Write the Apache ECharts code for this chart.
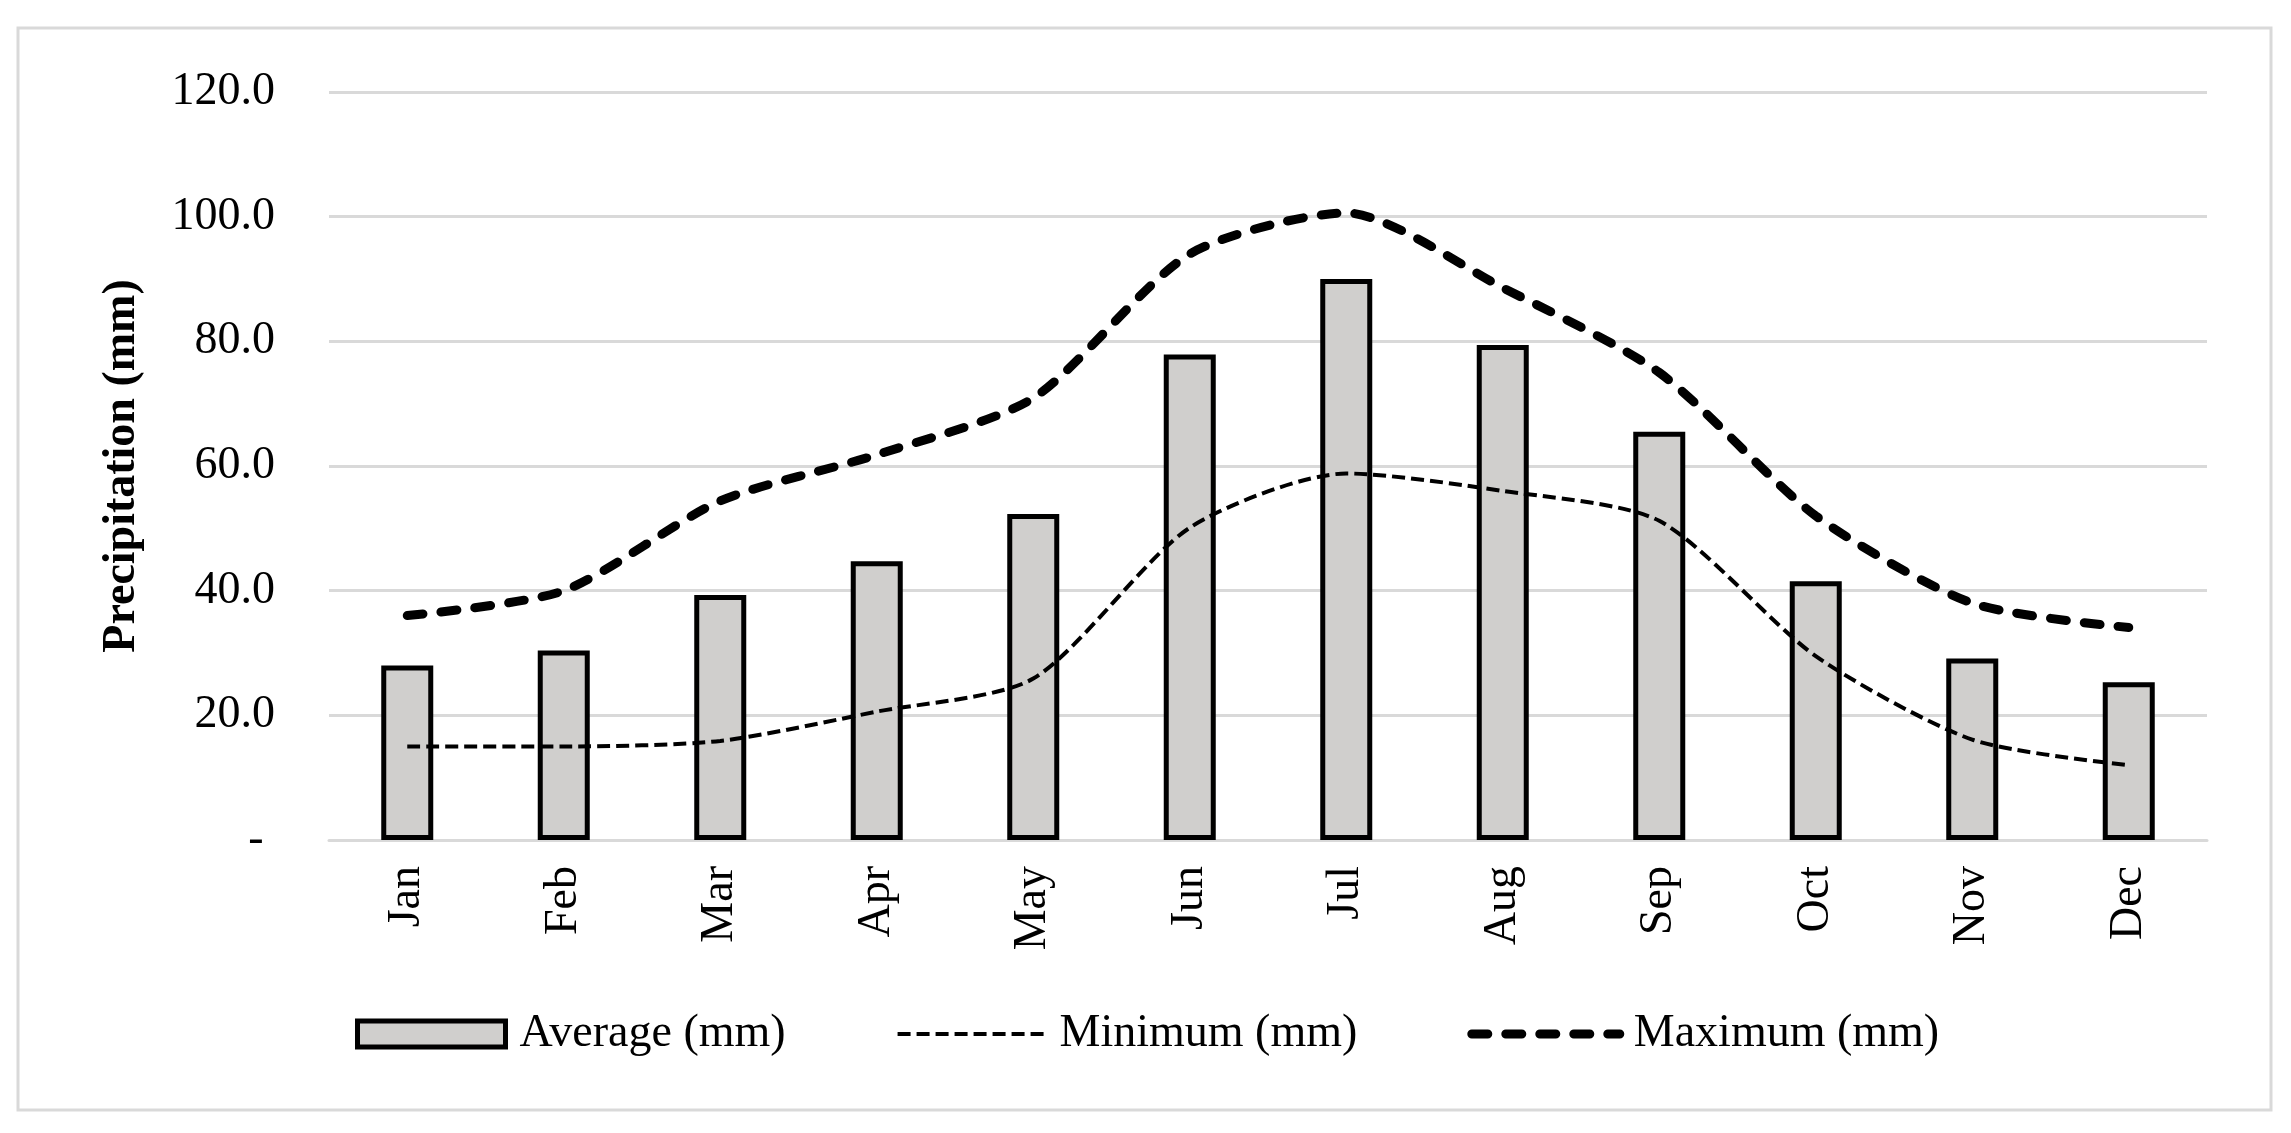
<!DOCTYPE html>
<html>
<head>
<meta charset="utf-8">
<script src="https://cdn.jsdelivr.net/npm/echarts@6/dist/echarts.min.js"></script>
<style>
html,body{margin:0;padding:0;background:#fff;}
#chart{width:2291px;height:1133px;}
</style>
</head>
<body>
<div id="chart"></div>
<script>
const months = ['Jan','Feb','Mar','Apr','May','Jun','Jul','Aug','Sep','Oct','Nov','Dec'];
const averageMm = [28.0, 30.4, 39.3, 44.7, 52.3, 77.9, 90.0, 79.4, 65.5, 41.5, 29.1, 25.3];
const minimumMm = [15.0, 15.0, 15.9, 20.6, 25.9, 50.1, 58.8, 56.0, 51.2, 29.5, 16.1, 12.0];
const maximumMm = [36.0, 40.0, 54.4, 61.8, 70.9, 94.0, 100.6, 88.6, 75.0, 52.0, 38.0, 34.1];
const seriesNames = ['Average (mm)', 'Minimum (mm)', 'Maximum (mm)'];
const yAxisTitle = 'Precipitation (mm)';

const FONT = "'Liberation Serif', 'Times New Roman', serif";
const GRID = '#d9d9d9';
const BAR = '#d0cfcd';
const minLine = {color: '#000', width: 4, type: [13, 6], cap: 'butt'};
const maxLine = {color: '#000', width: 9, type: [16, 18], cap: 'round'};
const hiddenSymbol = {color: 'rgba(0,0,0,0)', opacity: 0, borderWidth: 0};

const chart = echarts.init(document.getElementById('chart'), null, {renderer: 'canvas'});
chart.setOption({
  backgroundColor: '#ffffff',
  animation: false,
  textStyle: {fontFamily: FONT, color: '#000'},
  graphic: [{
    type: 'rect',
    shape: {x: 18, y: 28, width: 2253, height: 1082},
    style: {fill: 'none', stroke: GRID, lineWidth: 3},
    silent: true, z: -10
  }],
  grid: {left: 329, right: 84, top: 92, bottom: 293, containLabel: false},
  legend: {
    left: 350, top: 1004,
    itemWidth: 148, itemHeight: 26, itemGap: 110,
    textStyle: {fontFamily: FONT, fontSize: 46, color: '#000', padding: [0, 0, 0, 9], lineHeight: 50},
    data: [
      {name: seriesNames[0], icon: 'rect', itemStyle: {color: BAR, borderColor: '#000', borderWidth: 5}},
      {name: seriesNames[1], itemStyle: hiddenSymbol, lineStyle: minLine},
      {name: seriesNames[2], itemStyle: hiddenSymbol, lineStyle: maxLine}
    ]
  },
  xAxis: {
    type: 'category',
    data: months,
    axisLine: {show: true, lineStyle: {color: GRID, width: 3}},
    axisTick: {show: false},
    axisLabel: {rotate: 90, margin: 26, fontFamily: FONT, fontSize: 46, color: '#000', interval: 0}
  },
  yAxis: {
    type: 'value',
    min: 0, max: 120, interval: 20,
    name: yAxisTitle,
    nameLocation: 'middle',
    nameGap: 184,
    nameTextStyle: {fontFamily: FONT, fontSize: 46, fontWeight: 'bold', color: '#000'},
    axisLine: {show: false},
    axisTick: {show: false},
    splitLine: {show: true, lineStyle: {color: GRID, width: 3}},
    axisLabel: {
      margin: 54, fontFamily: FONT, fontSize: 46, color: '#000',
      formatter: v => v === 0 ? '- ' : v.toFixed(1)
    }
  },
  series: [
    {
      name: seriesNames[0], type: 'bar', data: averageMm,
      barWidth: 52,
      itemStyle: {color: BAR, borderColor: '#000', borderWidth: 5},
      z: 2
    },
    {
      name: seriesNames[1], type: 'line', data: minimumMm,
      smooth: 0.25, symbol: 'none', showSymbol: false,
      lineStyle: minLine,
      itemStyle: {color: '#000'},
      z: 3
    },
    {
      name: seriesNames[2], type: 'line', data: maximumMm,
      smooth: 0.25, symbol: 'none', showSymbol: false,
      lineStyle: maxLine,
      itemStyle: {color: '#000'},
      z: 4
    }
  ]
});
</script>
</body>
</html>
